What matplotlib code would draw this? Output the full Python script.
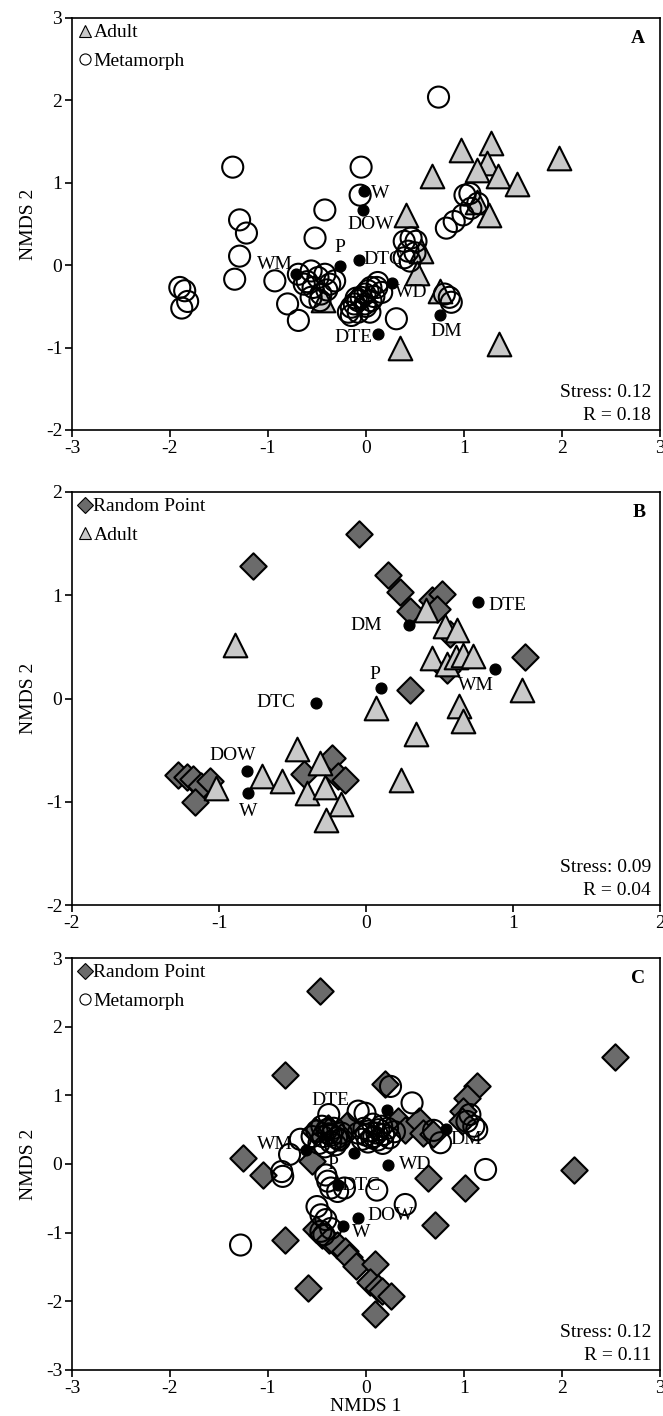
import matplotlib.pyplot as plt
from matplotlib.lines import Line2D

plt.rcParams['font.family'] = ['Liberation Serif', 'DejaVu Serif']
plt.rcParams['axes.unicode_minus'] = False

# ---- Panel A: Adult vs Metamorph ----
a_adult_x = [0.97, 1.28, 1.23, 1.13, 1.35, 1.54, 1.97, 0.67, 1.13, 1.26, 0.41, 0.56, 0.52,
             0.76, -0.44, 0.35, 1.36]
a_adult_y = [1.40, 1.48, 1.24, 1.16, 1.08, 0.98, 1.30, 1.08, 0.77, 0.61, 0.61, 0.17, -0.09,
             -0.31, -0.42, -1.0, -0.96]
a_meta_x = [0.74, -1.36, -0.05, -0.06, -0.42, -1.29, -1.22, -0.52, -1.29, -1.34,
            -1.90, -1.85, -1.82, -1.88, -0.93, -0.80, -0.69, -0.69, -0.63, -0.56,
            -0.54, -0.49, -0.46, -0.42, -0.37, -0.32, -0.56, -0.47, -0.60, -0.40,
            -0.18, -0.15, -0.12, -0.08, -0.05, -0.01, 0.02, 0.05, 0.11, 0.16,
            -0.01, -0.08, 0.05, 0.04, -0.15, 0.12, 0.31, -0.10, 0.00, 0.08,
            0.39, 0.46, 0.51, 0.43, 0.50, 0.45, 0.39, 0.80, 0.85, 0.87,
            0.82, 0.90, 0.99, 1.07, 1.01, 1.06, 1.14]
a_meta_y = [2.04, 1.19, 1.19, 0.85, 0.67, 0.55, 0.39, 0.33, 0.11, -0.17,
            -0.27, -0.31, -0.44, -0.52, -0.19, -0.47, -0.67, -0.11, -0.23, -0.07,
            -0.27, -0.15, -0.35, -0.11, -0.23, -0.19, -0.39, -0.43, -0.20, -0.30,
            -0.57, -0.51, -0.47, -0.43, -0.39, -0.35, -0.31, -0.27, -0.27, -0.33,
            -0.47, -0.57, -0.43, -0.57, -0.61, -0.21, -0.65, -0.40, -0.50, -0.38,
            0.29, 0.33, 0.29, 0.17, 0.15, 0.05, 0.09, -0.35, -0.39, -0.45,
            0.45, 0.53, 0.61, 0.69, 0.85, 0.87, 0.75]
a_env = ['W', 'DOW', 'P', 'DTC', 'WM', 'WD', 'DTE', 'DM']
a_env_x = [-0.02, -0.03, -0.27, -0.07, -0.71, 0.27, 0.12, 0.76]
a_env_y = [0.90, 0.67, -0.01, 0.06, -0.11, -0.21, -0.83, -0.60]
a_lab_x = [0.14, 0.05, -0.27, 0.17, -0.93, 0.46, -0.13, 0.82]
a_lab_y = [0.87, 0.49, 0.21, 0.07, 0.01, -0.33, -0.88, -0.80]

# ---- Panel B: Random Point vs Adult ----
b_rand_x = [-0.05, -0.77, 0.15, 0.23, 0.45, 0.52, 0.30, 0.48, 0.57, 1.08, 0.55, 0.30,
            -1.28, -1.22, -1.18, -1.12, -1.06, -1.16, -0.42, -0.23, -0.19, -0.14]
b_rand_y = [1.59, 1.28, 1.20, 1.03, 0.95, 1.01, 0.85, 0.87, 0.62, 0.40, 0.28, 0.08,
            -0.74, -0.76, -0.78, -0.85, -0.80, -1.0, -0.73, -0.58, -0.75, -0.79]
b_adult_x = [-0.89, 0.41, 0.54, 0.62, 0.45, 0.55, 0.61, 0.66, 0.73, 1.06, 0.07, 0.63,
             0.66, 0.34, -0.47, -0.31, -0.71, -0.57, -1.02, -0.40, -0.28, -0.17, -0.27,
             0.24]
b_adult_y = [0.52, 0.86, 0.70, 0.66, 0.39, 0.33, 0.40, 0.42, 0.41, 0.08, -0.09, -0.07,
             -0.22, -0.34, -0.49, -0.62, -0.75, -0.80, -0.87, -0.92, -0.86, -1.02, -1.18,
             -0.79]
b_env = ['DTE', 'DM', 'P', 'WM', 'DTC', 'DOW', 'W']
b_env_x = [0.76, 0.29, 0.10, 0.88, -0.34, -0.81, -0.80]
b_env_y = [0.93, 0.71, 0.10, 0.29, -0.04, -0.70, -0.92]
b_lab_x = [0.96, 0.00, 0.06, 0.75, -0.61, -0.91, -0.80]
b_lab_y = [0.90, 0.71, 0.23, 0.13, -0.04, -0.55, -1.09]

# ---- Panel C: Random Point vs Metamorph ----
c_rand_x = [-0.47, 2.54, -0.83, 0.19, 1.13, 1.03, 0.99, 0.98, -1.26, -1.05, -0.55,
            0.63, 1.01, 0.70, -0.83, 2.12, -0.52, -0.39, 0.33, 0.40, 0.54, 0.58,
            0.68, -0.19, -0.26, -0.51, -0.45, -0.38, -0.30, -0.21, -0.17, -0.10,
            0.09, -0.59, 0.04, 0.12, 0.16, 0.25, 0.09]
c_rand_y = [2.52, 1.56, 1.30, 1.16, 1.13, 0.96, 0.77, 0.62, 0.09, -0.16, 0.04,
            -0.20, -0.35, -0.89, -1.10, -0.09, 0.48, 0.53, 0.62, 0.50, 0.62, 0.45,
            0.43, 0.57, 0.40, -0.95, -1.03, -1.11, -1.18, -1.27, -1.36, -1.48,
            -1.45, -1.80, -1.72, -1.80, -1.85, -1.92, -2.18]
c_meta_x = [-0.38, -0.08, -0.01, 0.47, 0.25, -0.67, -0.78, -0.86, -0.85, -0.41,
            -0.39, -0.36, -0.29, -0.22, 0.11, 0.40, 1.22, -1.28, -0.50, -0.46,
            -0.41, -0.36, -0.46, -0.43, 0.69, 0.76, 1.03, 1.10, 1.13, 1.06,
            -0.55, -0.50, -0.45, -0.40, -0.35, -0.30, -0.25, -0.48, -0.42, -0.36,
            -0.31, -0.27, -0.44, -0.38, -0.33,
            -0.08, -0.02, 0.03, 0.08, 0.13, 0.18, 0.24, 0.29, -0.04, 0.02,
            0.07, 0.12, 0.17, 0.22, 0.00, 0.06, 0.11, 0.16]
c_meta_y = [0.72, 0.77, 0.74, 0.89, 1.13, 0.36, 0.14, -0.11, -0.18, -0.16,
            -0.25, -0.35, -0.40, -0.35, -0.38, -0.59, -0.08, -1.18, -0.62, -0.74,
            -0.81, -0.94, -0.98, -1.03, 0.49, 0.31, 0.62, 0.55, 0.50, 0.72,
            0.40, 0.48, 0.55, 0.50, 0.42, 0.38, 0.45, 0.30, 0.25, 0.32,
            0.28, 0.35, 0.40, 0.44, 0.52,
            0.45, 0.52, 0.48, 0.40, 0.50, 0.43, 0.38, 0.47, 0.36, 0.32,
            0.58, 0.35, 0.30, 0.52, 0.42, 0.38, 0.45, 0.55]
c_env = ['DTE', 'P', 'WM', 'DM', 'WD', 'DTC', 'DOW', 'W']
c_env_x = [0.21, -0.12, -0.61, 0.82, 0.22, -0.29, -0.08, -0.23]
c_env_y = [0.78, 0.16, 0.21, 0.51, -0.01, -0.30, -0.78, -0.90]
c_lab_x = [-0.36, -0.34, -0.93, 1.02, 0.50, -0.05, 0.25, -0.05]
c_lab_y = [0.93, -0.01, 0.29, 0.35, -0.01, -0.31, -0.75, -1.00]

ADULT = '#c9c9c9'
RAND = '#6b6b6b'
FS = 14


def draw_panel(ax, groups, env, env_x, env_y, lab_x, lab_y, lim_x, lim_y, letter, stress, r):
    handles = []
    for x, y, marker, face, size, z, name in groups:
        ax.scatter(x, y, marker=marker, s=size, facecolor=face, edgecolor='black',
                   linewidth=1.5, zorder=z)
        handles.append(Line2D([], [], linestyle='none', marker=marker, markersize=8,
                              markerfacecolor=face, markeredgecolor='black',
                              markeredgewidth=0.8, label=name))
    ax.scatter(env_x, env_y, s=60, color='black', zorder=5)
    for name, tx, ty in zip(env, lab_x, lab_y):
        ax.text(tx, ty, name, ha='center', va='center', fontsize=FS, zorder=2.5)
    ax.set_xlim(lim_x)
    ax.set_ylim(lim_y)
    ax.set_xticks(range(lim_x[0], lim_x[1] + 1))
    ax.set_yticks(range(lim_y[0], lim_y[1] + 1))
    ax.tick_params(direction='out', length=5, width=1.2, labelsize=FS, pad=2)
    for sp in ax.spines.values():
        sp.set_linewidth(1.2)
    ax.set_ylabel('NMDS 2', fontsize=FS, labelpad=6)
    ax.legend(handles=handles, loc='upper left', frameon=False, fontsize=FS,
              handlelength=0.7, handletextpad=0.1, labelspacing=0.55,
              borderaxespad=0.2, borderpad=0.1)
    ax.text(0.975, 0.95, letter, transform=ax.transAxes, ha='right', va='center',
            fontsize=FS, fontweight='bold')
    ax.text(0.985, 0.09, 'Stress: ' + stress, transform=ax.transAxes, ha='right',
            va='center', fontsize=FS)
    ax.text(0.985, 0.035, 'R = ' + r, transform=ax.transAxes, ha='right',
            va='center', fontsize=FS)


fig = plt.figure(figsize=(6.63, 14.16), dpi=100)
W, H = 663, 1416


def rect(top, bottom):
    return [72 / W, 1 - bottom / H, (660 - 72) / W, (bottom - top) / H]


ax_a = fig.add_axes(rect(18, 430))
ax_b = fig.add_axes(rect(492, 905))
ax_c = fig.add_axes(rect(958, 1370))

draw_panel(ax_a,
           [(a_adult_x, a_adult_y, '^', ADULT, 290, 2, 'Adult'),
            (a_meta_x, a_meta_y, 'o', 'none', 230, 3, 'Metamorph')],
           a_env, a_env_x, a_env_y, a_lab_x, a_lab_y, (-3, 3), (-2, 3), 'A', '0.12', '0.18')
draw_panel(ax_b,
           [(b_rand_x, b_rand_y, 'D', RAND, 180, 2, 'Random Point'),
            (b_adult_x, b_adult_y, '^', ADULT, 290, 3, 'Adult')],
           b_env, b_env_x, b_env_y, b_lab_x, b_lab_y, (-2, 2), (-2, 2), 'B', '0.09', '0.04')
draw_panel(ax_c,
           [(c_rand_x, c_rand_y, 'D', RAND, 180, 2, 'Random Point'),
            (c_meta_x, c_meta_y, 'o', 'none', 230, 3, 'Metamorph')],
           c_env, c_env_x, c_env_y, c_lab_x, c_lab_y, (-3, 3), (-3, 3), 'C', '0.12', '0.11')
ax_c.set_xlabel('NMDS 1', fontsize=FS, labelpad=1)

fig.savefig('out.png', dpi=100)
